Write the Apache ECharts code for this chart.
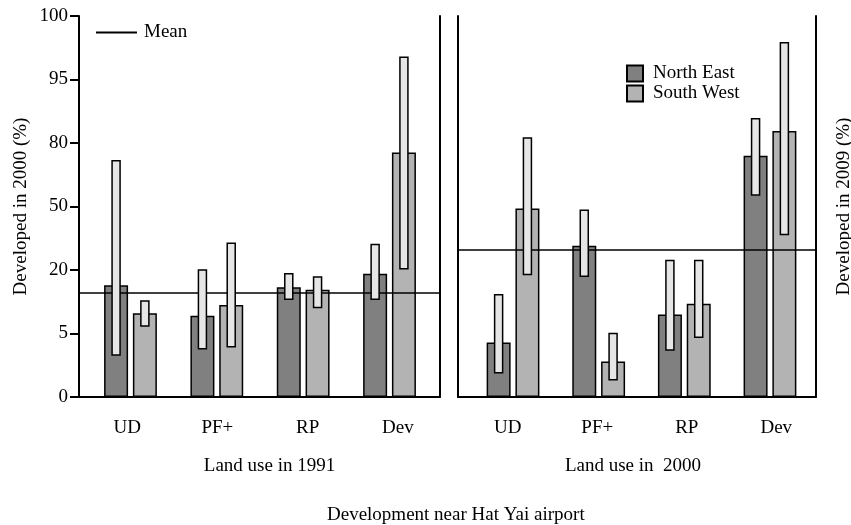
<!DOCTYPE html>
<html>
<head>
<meta charset="utf-8">
<script src="https://cdn.jsdelivr.net/npm/echarts@6/dist/echarts.min.js"></script>
<style>
  html, body { margin: 0; padding: 0; background: #fff; }
  #chart { width: 851px; height: 525px; }
</style>
</head>
<body>
<div id="chart"></div>
<script>
// y axis is a stretched percentage scale: tick i sits at value i
const yTickLabels = ['0', '5', '20', '50', '80', '95', '100']
const categories = ['UD', 'PF+', 'RP', 'Dev']

// land use in 1991 -> developed in 2000 (in tick units)
const ne1991 = [1.76, 1.28, 1.73, 1.94]
const sw1991 = [1.32, 1.45, 1.69, 3.85]
const ne1991Lo = [0.66, 0.76, 1.54, 1.54]
const ne1991Hi = [3.72, 2.00, 1.94, 2.40]
const sw1991Lo = [1.12, 0.79, 1.41, 2.02]
const sw1991Hi = [1.51, 2.42, 1.89, 5.35]
const mean1991 = 1.64

// land use in 2000 -> developed in 2009
const ne2000 = [0.86, 2.38, 1.30, 3.80]
const sw2000 = [2.97, 0.56, 1.47, 4.19]
const ne2000Lo = [0.38, 1.90, 0.74, 3.18]
const ne2000Hi = [1.61, 2.94, 2.15, 4.38]
const sw2000Lo = [1.93, 0.27, 0.94, 2.56]
const sw2000Hi = [4.08, 1.00, 2.15, 5.58]
const mean2000 = 2.32

const font = 'Liberation Serif'
const FS = 19
const BAR_W = 24
const GAP = 4.8
const DARK = '#808080'
const LIGHT = '#b3b3b3'

const txt = (extra) => Object.assign({ fontFamily: font, fontSize: FS, color: '#000' }, extra)

const rangeData = (lo, hi, side) => lo.map((v, i) => [i, v, hi[i], side])

// narrow whisker boxes sitting on top of each bar
const renderRange = (params, api) => {
  const lo = api.coord([api.value(0), api.value(1)])
  const hi = api.coord([api.value(0), api.value(2)])
  const off = (api.value(3) === 0 ? -1 : 1) * (BAR_W + GAP) / 2
  return {
    type: 'rect',
    shape: { x: lo[0] + off - 4, y: hi[1], width: 8, height: lo[1] - hi[1] },
    style: { fill: '#e6e6e6', stroke: '#000', lineWidth: 1.5 }
  }
}

// visible axis with ticks and labels (panel frame)
const outerX = (idx, name, labelPad, namePad) => ({
  type: 'category',
  gridIndex: idx,
  data: categories,
  name: name,
  nameLocation: 'middle',
  nameGap: 60,
  nameTextStyle: txt({ padding: namePad }),
  axisLine: { lineStyle: { color: '#000', width: 2 } },
  axisTick: { length: 6, lineStyle: { color: '#000', width: 2 } },
  axisLabel: txt({ margin: 22, padding: labelPad })
})

// hidden axis the bars are placed on
const innerX = (idx) => ({ type: 'category', gridIndex: idx, data: categories, show: false })

const yAxisBase = (idx, pos, opts) => Object.assign({
  type: 'value',
  gridIndex: idx,
  position: pos,
  min: 0,
  max: 6,
  interval: 1,
  splitLine: { show: false },
  axisLine: { show: true, lineStyle: { color: '#000', width: 2 } },
  axisTick: { show: false },
  axisLabel: { show: false }
}, opts)

const barStyle = (color) => ({ color: color, borderColor: '#000', borderWidth: 1.5 })

const meanSeries = (xi, yi, v) => ({
  name: 'Mean', type: 'line', xAxisIndex: xi, yAxisIndex: yi, data: [],
  symbol: 'none', lineStyle: { color: '#000', width: 2 }, itemStyle: { color: '#000' },
  markLine: {
    silent: true,
    symbol: 'none',
    label: { show: false },
    lineStyle: { color: '#000', width: 1.5, type: 'solid' },
    data: [{ yAxis: v }]
  }
})

const barSeries = (name, xi, yi, data, color) => ({
  name: name, type: 'bar', xAxisIndex: xi, yAxisIndex: yi,
  barWidth: BAR_W, barGap: '20%', data: data, itemStyle: barStyle(color)
})

const gridBox = (left, right) => ({
  left: left, right: right, top: 16, bottom: 128, outerBoundsMode: 'none'
})

const option = {
  animation: false,
  backgroundColor: '#fff',
  title: {
    text: 'Development near Hat Yai airport',
    left: 322,
    top: 501,
    textStyle: txt({ fontWeight: 'normal' })
  },
  legend: [
    {
      data: [{ name: 'Mean', icon: 'rect' }],
      left: 91, top: 18,
      itemWidth: 41, itemHeight: 2,
      textStyle: txt({ padding: [0, 0, 0, 2] })
    },
    {
      data: [{ name: 'North East', icon: 'rect' }, { name: 'South West', icon: 'rect' }],
      orient: 'vertical',
      left: 621, top: 59,
      itemWidth: 16, itemHeight: 16, itemGap: 1,
      textStyle: txt({ padding: [0, 0, 0, 5] })
    }
  ],
  grid: [
    gridBox(79, 411),
    gridBox(87.3, 418.3),
    gridBox(458, 35),
    gridBox(470.2, 38.2)
  ],
  xAxis: [
    outerX(0, 'Land use in 1991', [0, 0, 0, 6], [0, 0, 0, 20]),
    innerX(1),
    outerX(2, 'Land use in  2000', [0, 0, 0, 10], [0, 8, 0, 0]),
    innerX(3)
  ],
  yAxis: [
    yAxisBase(0, 'left', {
      name: 'Developed in 2000 (%)',
      nameLocation: 'middle',
      nameGap: 48,
      nameTextStyle: txt(),
      axisTick: { show: true, length: 9, lineStyle: { color: '#000', width: 2 } },
      axisLabel: txt({ show: true, margin: 11, formatter: (v) => yTickLabels[v] })
    }),
    yAxisBase(0, 'right'),
    yAxisBase(1, 'left', { show: false }),
    yAxisBase(2, 'left'),
    yAxisBase(2, 'right', {
      name: 'Developed in 2009 (%)',
      nameLocation: 'middle',
      nameRotate: 90,
      nameGap: 19,
      nameTextStyle: txt()
    }),
    yAxisBase(3, 'left', { show: false })
  ],
  series: [
    meanSeries(0, 0, mean1991),
    meanSeries(2, 3, mean2000),
    barSeries('North East', 1, 2, ne1991, DARK),
    barSeries('South West', 1, 2, sw1991, LIGHT),
    barSeries('North East', 3, 5, ne2000, DARK),
    barSeries('South West', 3, 5, sw2000, LIGHT),
    {
      type: 'custom', xAxisIndex: 1, yAxisIndex: 2, z: 5,
      renderItem: renderRange,
      data: rangeData(ne1991Lo, ne1991Hi, 0).concat(rangeData(sw1991Lo, sw1991Hi, 1))
    },
    {
      type: 'custom', xAxisIndex: 3, yAxisIndex: 5, z: 5,
      renderItem: renderRange,
      data: rangeData(ne2000Lo, ne2000Hi, 0).concat(rangeData(sw2000Lo, sw2000Hi, 1))
    }
  ]
}

const chart = echarts.init(document.getElementById('chart'))
chart.setOption(option)
</script>
</body>
</html>
